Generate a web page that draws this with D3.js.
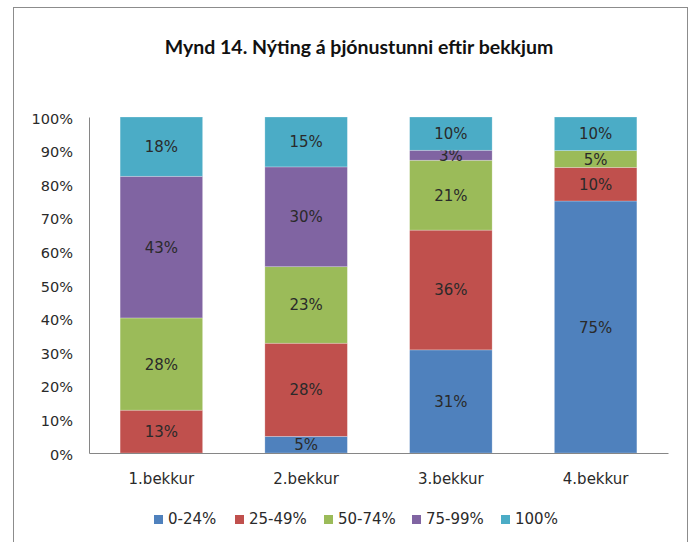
<!DOCTYPE html>
<html lang="is">
  <head>
    <meta charset="UTF-8" />
    <title>Mynd 14</title>
    <script src="https://cdn.jsdelivr.net/npm/d3@7"></script>
    <style>
      body { margin: 0; background: #fff; }
      svg text { font-family: "DejaVu Sans", sans-serif; fill: #2a2a2a; }
    </style>
  </head>
  <body>
    <svg id="chart" width="698" height="542"></svg>
    <script>
      // data
      const categories = ["1.bekkur", "2.bekkur", "3.bekkur", "4.bekkur"];
      const seriesNames = ["0-24%", "25-49%", "50-74%", "75-99%", "100%"];
      const colors = ["#4F81BD", "#C0504D", "#9BBB59", "#8064A2", "#4BACC6"];
      const v0_24 = [0, 5, 31, 75];
      const v25_49 = [13, 28, 36, 10];
      const v50_74 = [28, 23, 21, 5];
      const v75_99 = [43, 30, 3, 0];
      const v100 = [18, 15, 10, 10];
      const yTicks = [0, 0.1, 0.2, 0.3, 0.4, 0.5, 0.6, 0.7, 0.8, 0.9, 1];

      const values = [v0_24, v25_49, v50_74, v75_99, v100];
      const rows = categories.map((c, i) => {
        let r = { cat: c };
        seriesNames.forEach((s, j) => (r[s] = values[j][i]));
        return r;
      });

      const svg = d3.select("#chart");
      const margin = { left: 89, right: 30, top: 117, bottom: 89 };
      const W = 698, H = 542;

      // outer frame
      svg.append("rect")
        .attr("x", 13.5).attr("y", 7.5)
        .attr("width", 674).attr("height", 560)
        .attr("fill", "none").attr("stroke", "#8c8c8c");

      svg.append("text")
        .attr("x", 359).attr("y", 54)
        .attr("text-anchor", "middle")
        .attr("font-size", 19.5)
        .style("font-family", "Lato, sans-serif").style("font-weight", "bold")
        .style("fill", "#111")
        .text("Mynd 14. Nýting á þjónustunni eftir bekkjum");

      const x = d3.scaleBand()
        .domain(categories)
        .range([margin.left, W - margin.right])
        .paddingInner(0.43).paddingOuter(0.215);
      const y = d3.scaleLinear().domain([0, 1]).range([H - margin.bottom, margin.top]);

      const stack = d3.stack().keys(seriesNames).offset(d3.stackOffsetExpand);
      const stacked = stack(rows);

      const g = svg.append("g");
      stacked.forEach((layer, j) => {
        const lg = g.append("g");
        lg.selectAll("rect")
          .data(layer.filter(d => d[1] - d[0] > 0))
          .join("rect")
          .attr("x", d => x(d.data.cat))
          .attr("width", x.bandwidth())
          .attr("y", d => y(d[1]))
          .attr("height", d => y(d[0]) - y(d[1]))
          .attr("fill", colors[j])
          .attr("stroke", "rgba(255,255,255,0.35)")
          .attr("stroke-width", 0.7);
        lg.selectAll("text")
          .data(layer.filter(d => d[1] - d[0] > 0))
          .join("text")
          .attr("x", d => x(d.data.cat) + x.bandwidth() / 2)
          .attr("y", d => (y(d[0]) + y(d[1])) / 2 + 5.5)
          .attr("text-anchor", "middle")
          .attr("font-size", 15)
          .text(d => d.data[seriesNames[j]] + "%");
      });

      // axes
      const yAxis = d3.axisLeft(y).tickValues(yTicks).tickSize(0).tickPadding(16)
        .tickFormat(d3.format(".0%"));
      const ya = svg.append("g").attr("transform", `translate(${margin.left},0)`).call(yAxis);
      ya.select(".domain").attr("stroke", "#868686");
      ya.selectAll("text").attr("font-size", 14.5).attr("font-family", null).attr("dy", "0.42em");

      const xAxis = d3.axisBottom(x).tickSize(0).tickPadding(20);
      const xa = svg.append("g").attr("transform", `translate(0,${H - margin.bottom})`).call(xAxis);
      xa.select(".domain").attr("stroke", "#868686");
      xa.selectAll("text").attr("font-size", 15).attr("font-family", null);

      // legend
      const legendX = [154, 235, 324, 412, 501];
      const leg = svg.append("g").attr("transform", "translate(0,524)");
      seriesNames.forEach((s, j) => {
        leg.append("rect").attr("x", legendX[j]).attr("y", -9)
          .attr("width", 9).attr("height", 9).attr("fill", colors[j]);
        leg.append("text").attr("x", legendX[j] + 14).attr("y", 0)
          .attr("font-size", 15).text(s);
      });
    </script>
  </body>
</html>
